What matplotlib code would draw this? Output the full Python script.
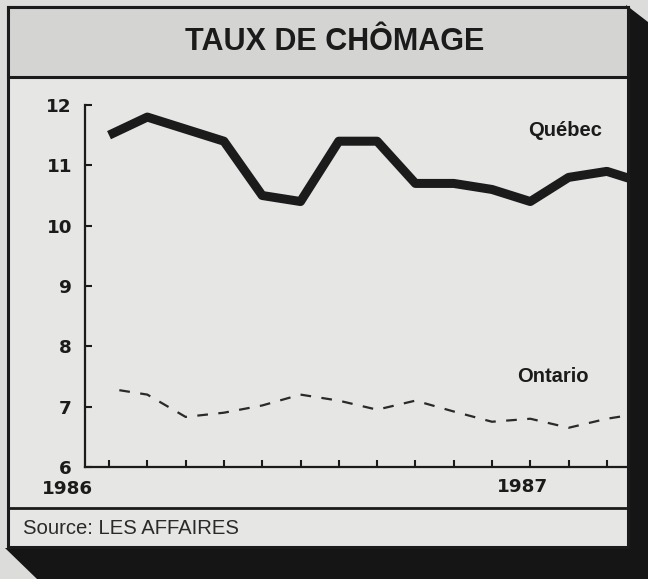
import matplotlib
matplotlib.use('Agg')
import matplotlib.pyplot as plt
from matplotlib.patches import Rectangle, Polygon

# monthly unemployment rate, 1986-1987
months = list(range(15))
quebec = [11.5, 11.8, 11.6, 11.4, 10.5, 10.4, 11.4, 11.4, 10.7, 10.7, 10.6, 10.4, 10.8, 10.9, 10.7]
ontario = [7.3, 7.2, 6.83, 6.9, 7.02, 7.2, 7.1, 6.95, 7.1, 6.92, 6.75, 6.8, 6.65, 6.8, 6.9]
yticks = [6, 7, 8, 9, 10, 11, 12]
xticks = list(range(14))
years = ['1986', '1987']

W, H = 648, 579
ink = '#1b1b1b'
fig = plt.figure(figsize=(W / 100, H / 100), dpi=100)
fig.patch.set_facecolor('#dcdcda')

# frame, shadow and title band drawn in pixel coords
bg = fig.add_axes([0, 0, 1, 1])
bg.set_xlim(0, W)
bg.set_ylim(H, 0)
bg.axis('off')
bg.add_patch(Polygon([(626, 5), (648, 22), (648, 579), (37, 579), (5, 548), (626, 548)],
                     closed=True, facecolor='#151515', lw=0))
bg.add_patch(Rectangle((8, 7), 620, 540, facecolor='#e6e6e4', edgecolor=ink, lw=2.2))
bg.add_patch(Rectangle((8, 7), 620, 70, facecolor='#d4d4d2', edgecolor=ink, lw=2.2))
bg.plot([8, 628], [508, 508], color=ink, lw=2)
bg.text(335, 42, 'TAUX DE CHÔMAGE', ha='center', va='center', fontsize=22,
        fontweight='bold', family='Liberation Sans', color=ink)
bg.text(23, 528, 'Source: LES AFFAIRES', ha='left', va='center', fontsize=14.6,
        family='Liberation Sans', color='#2a2a2a')

# the chart itself
ax = fig.add_axes([85 / W, (H - 467) / H, (627 - 85) / W, (467 - 105) / H])
ax.patch.set_alpha(0)
ax.plot(months, quebec, color=ink, lw=6.5, solid_joinstyle='round', solid_capstyle='butt')
ax.plot(months, ontario, color='#2a2a2a', lw=1.6, linestyle=(4.8, (4.8, 4.7)))
ax.set_xlim(-0.627, 13.525)
ax.set_ylim(6, 12)
ax.set_xticks(xticks)
ax.set_xticklabels([])
ax.set_yticks(yticks)
ax.set_yticklabels([str(v) for v in yticks], fontsize=13.2, fontweight='bold',
                   family='DejaVu Sans', color=ink)
for s in ['top', 'right']:
    ax.spines[s].set_visible(False)
for s in ['left', 'bottom']:
    ax.spines[s].set_linewidth(1.6)
    ax.spines[s].set_color(ink)
ax.tick_params(direction='in', length=5, width=1.5, color=ink, pad=9.4)

fig.text(528 / W, 1 - 130 / H, 'Québec', ha='left', va='center', fontsize=14.5,
         fontweight='bold', family='Liberation Sans', color=ink)
fig.text(517 / W, 1 - 376 / H, 'Ontario', ha='left', va='center', fontsize=14.5,
         fontweight='bold', family='Liberation Sans', color=ink)
fig.text(42 / W, 1 - 489 / H, years[0], ha='left', va='center', fontsize=13.2,
         fontweight='bold', family='DejaVu Sans', color=ink)
fig.text(497 / W, 1 - 487 / H, years[1], ha='left', va='center', fontsize=13.2,
         fontweight='bold', family='DejaVu Sans', color=ink)

fig.savefig('out.png', dpi=100, facecolor=fig.get_facecolor())
